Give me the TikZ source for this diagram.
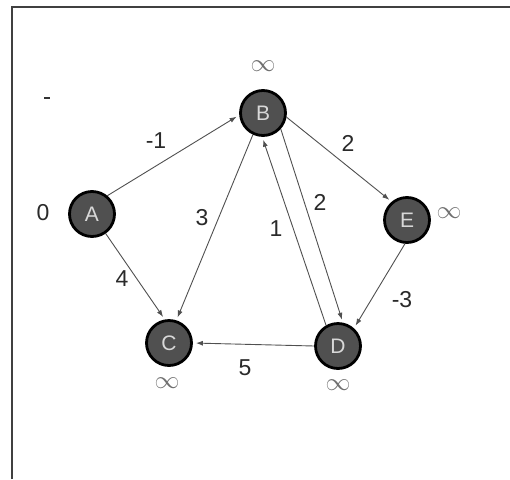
\documentclass[tikz,border=0pt]{standalone}
\usepackage{fontspec}
\setmainfont{Liberation Sans}
\usetikzlibrary{arrows.meta}
\definecolor{nodefill}{HTML}{505050}
\definecolor{edgecol}{HTML}{505050}
\definecolor{lettercol}{HTML}{D8D8D8}
\definecolor{txtcol}{HTML}{2A2A2A}
\definecolor{infcol}{HTML}{707070}
\begin{document}
\begin{tikzpicture}[x=1pt,y=-1pt,
  vertex/.style={circle,draw=black,line width=2.8pt,fill=nodefill,minimum size=45pt,inner sep=0pt,
    text=lettercol,font=\fontsize{21}{24}\selectfont},
  edge/.style={draw=edgecol,line width=0.9pt,-{Latex[length=7pt,width=5pt]},shorten >=3pt},
  wlabel/.style={text=txtcol,font=\fontsize{23}{26}\selectfont,inner sep=0pt},
  inflabel/.style={text=infcol,font=\fontsize{26}{29}\selectfont,inner sep=0pt},
  framecol/.style={draw=black!75,line width=1.6pt}]
\useasboundingbox (0,0) rectangle (510,479);
\fill[white] (0,0) rectangle (510,479);
\draw[framecol] (12,479) -- (12,7) -- (510,7);
\draw[black!80,line width=1.5pt] (44,98) -- (50,98);
% vertices
\node[vertex] (A) at (92,214) {A};
\node[vertex] (B) at (263,113) {B};
\node[vertex] (C) at (169,343) {C};
\node[vertex] (D) at (338,346) {D};
\node[vertex] (E) at (407,220) {E};
% distance labels
\node[wlabel] (dA) at (43,213) {0};
\node[inflabel] (dB) at (263,66) {$\infty$};
\node[inflabel] (dE) at (449,213) {$\infty$};
\node[inflabel] (dC) at (167,383) {$\infty$};
\node[inflabel] (dD) at (338,385) {$\infty$};
% edges
\draw[edge] (A.50) -- (B.185);
\draw[edge] (A.305) -- (C.100);
\draw[edge] (B.245) -- (C.72);
\draw[edge] (B.350) -- (E.130);
\draw[edge] (B.318) -- (D.78);
\draw[edge] (D.120) -- (B.268);
\draw[edge] (E.265) -- (D.48);
\draw[edge] (D.west) -- (C.east);
% weights
\node[wlabel] (wAB) at (156,141) {-1};
\node[wlabel] (wBE) at (348,143) {2};
\node[wlabel] (wBC) at (202,218) {3};
\node[wlabel] (wBD) at (320,202) {2};
\node[wlabel] (wDB) at (276,229) {1};
\node[wlabel] (wAC) at (122,279) {4};
\node[wlabel] (wED) at (402,300) {-3};
\node[wlabel] (wDC) at (245,368) {5};
\end{tikzpicture}
\end{document}
